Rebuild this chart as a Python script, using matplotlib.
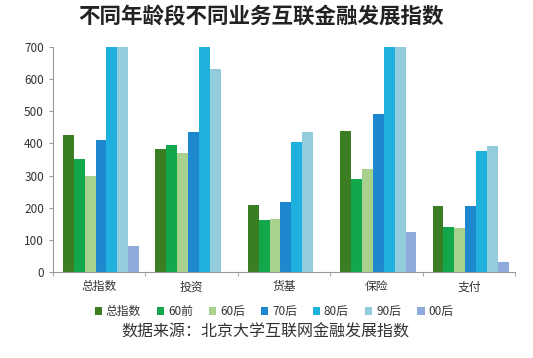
import numpy as np
import matplotlib.pyplot as plt

plt.rcParams['font.family'] = ['Noto Sans CJK SC', 'DejaVu Sans']

categories = ['总指数', '投资', '货基', '保险', '支付']
series = ['总指数', '60前', '60后', '70后', '80后', '90后', '00后']
v_total = [427, 384, 207, 440, 206]
v_60q = [353, 396, 163, 290, 139]
v_60h = [300, 370, 166, 321, 136]
v_70h = [412, 436, 218, 491, 206]
v_80h = [700, 700, 403, 700, 375]
v_90h = [700, 632, 434, 700, 392]
v_00h = [81, 0, 0, 126, 32]
colors = ['#3b7d23', '#12a74b', '#a9d18e', '#1e88cf', '#1eb1de', '#93cddd', '#8faadc']

values = [v_total, v_60q, v_60h, v_70h, v_80h, v_90h, v_00h]

fig = plt.figure(figsize=(5.33, 3.58), dpi=100)
ax = fig.add_axes([0.0994, 0.240, 0.867, 0.629])

x = np.arange(len(categories))
w = 0.118
for i, (vals, c, name) in enumerate(zip(values, colors, series)):
    ax.bar(x + (i - 3) * w + 0.02, vals, w, color=c, label=name)

ax.set_xlim(-0.5, len(categories) - 0.5)
ax.set_ylim(0, 700)
ax.set_yticks(range(0, 701, 100))
ax.set_xticks(x)
ax.set_xticklabels(categories, fontsize=8.5, color='#333333')
ax.set_xticks(np.arange(-0.5, len(categories)), minor=True)
ax.tick_params(axis='x', which='major', length=0, pad=6)
ax.tick_params(axis='x', which='minor', length=3, color='#999999')
ax.tick_params(axis='y', length=3, color='#999999', labelsize=8.5, labelcolor='#333333')
for s in ['top', 'right']:
    ax.spines[s].set_visible(False)
for s in ['left', 'bottom']:
    ax.spines[s].set_color('#999999')

fig.legend(loc='center', bbox_to_anchor=(0.514, 0.130), ncol=7, frameon=False,
           fontsize=8.5, handlelength=0.6, handleheight=0.6, handletextpad=0.3,
           columnspacing=1.4, labelcolor='#333333')
fig.text(0.49, 0.953, '不同年龄段不同业务互联金融发展指数', ha='center', va='center',
         fontsize=15.5, fontweight='bold', color='#222222')
fig.text(0.498, 0.072, '数据来源：北京大学互联网金融发展指数', ha='center', va='center',
         fontsize=11.5, color='#333333')

fig.savefig('out.png', dpi=100)
